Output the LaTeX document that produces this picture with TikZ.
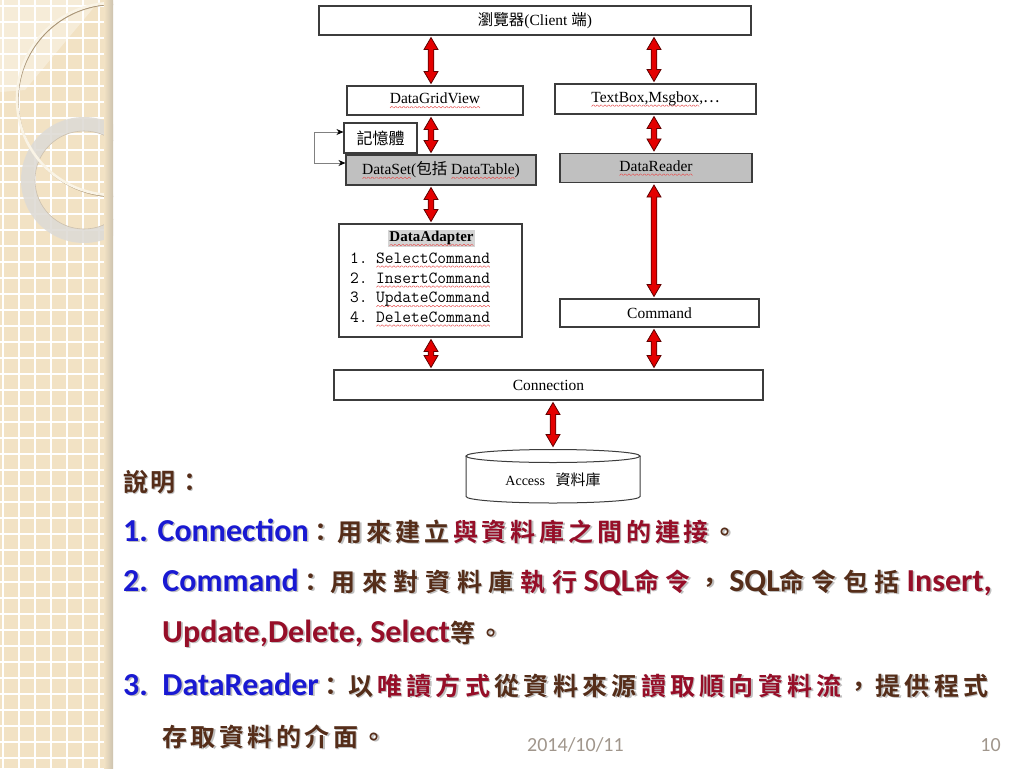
\documentclass[tikz,border=0pt]{standalone}
\usepackage{fontspec}
\usetikzlibrary{arrows.meta,calc}
\newfontfamily\ser{Liberation Serif}
\newfontfamily\cjr{Noto Sans CJK TC}
\newfontfamily\cjb{Noto Sans CJK TC}[UprightFont=* Bold]
\newfontfamily\latb{Carlito}[UprightFont=* Bold]
\newfontfamily\latr{Carlito}
\definecolor{tblue}{RGB}{25,25,210}
\definecolor{tred}{RGB}{150,14,40}
\definecolor{tbrn}{RGB}{85,45,25}
\definecolor{shd}{RGB}{150,150,150}
\definecolor{sqred}{RGB}{230,80,80}
\definecolor{strip}{RGB}{242,226,196}
\definecolor{shadowc}{RGB}{205,195,175}
\definecolor{ringgray}{RGB}{222,219,213}
\definecolor{ringcream}{RGB}{250,244,230}
\definecolor{ringshadow}{RGB}{170,150,120}
\definecolor{boxline}{RGB}{60,60,60}
\definecolor{boxgray}{RGB}{192,192,192}
\definecolor{arrred}{RGB}{228,0,0}
\definecolor{arrdark}{RGB}{95,0,0}
\definecolor{dategray}{RGB}{160,150,140}
\definecolor{titlegray}{RGB}{212,212,212}
% wavy spell-check underline made of small rules
\newcommand\zz{\hbox{\rotatebox{45}{\rule{2.2pt}{0.5pt}}\raisebox{1.55pt}{\rotatebox{-45}{\rule{2.2pt}{0.5pt}}}}}
\newcommand\sq[1]{\setbox0\hbox{#1}\leavevmode\rlap{\raisebox{-4.5pt}{\color{sqred}\hbox to \wd0{\xleaders\zz\hfill}}}\box0}
% CJK text with a fixed extra space after every character
\def\LSk{0pt}
\def\zhloop#1{\ifx\relax#1\else#1\kern\LSk\relax\expandafter\zhloop\fi}
\newcommand\ZH[1]{{\cjb\zhloop#1\relax}}
\newcommand\EN[1]{{\fontsize{32}{36}\selectfont\latb #1}}
\tikzset{
  box/.style={draw=boxline, line width=1.1pt, fill=white, inner sep=0pt,
    font=\fontsize{15.5}{18}\selectfont\ser},
  grayed/.style={fill=boxgray},
  dblarrow/.style={fill=arrred, draw=arrdark, line width=0.8pt, line join=miter},
  memline/.style={draw=gray, line width=0.8pt,
    {Stealth[length=7pt,width=6pt,color=black]}-{Stealth[length=7pt,width=6pt,color=black]}},
  txt/.style={anchor=base west, inner sep=0pt, font=\fontsize{25}{30}\selectfont\cjb},
  lst/.style={anchor=base west, inner sep=0pt, font=\fontsize{17}{19}\selectfont\ttfamily},
}
\newcommand\dbl[2]{%
  \coordinate (aT) at ($(#1)+(0,2)$);
  \coordinate (aB) at ($(#2)+(0,-2)$);
  \filldraw[dblarrow] (aT) -- ($(aT)+(7,12)$) -- ($(aT)+(2.8,12)$) -- ($(aB)+(2.8,-12)$)
    -- ($(aB)+(7,-12)$) -- (aB) -- ($(aB)+(-7,-12)$) -- ($(aB)+(-2.8,-12)$)
    -- ($(aT)+(-2.8,12)$) -- ($(aT)+(-7,12)$) -- cycle;}
\newcommand\tline[4]{%
  \def\LSk{#3pt}%
  \begingroup\colorlet{tblue}{shd}\colorlet{tred}{shd}\colorlet{tbrn}{shd}%
  \node[txt, text=shd, opacity=.6] at ([shift={(1.6,1.6)}]#2) {#4};
  \endgroup
  \node[txt, text=tbrn] (#1) at (#2) {#4};}
\begin{document}
\begin{tikzpicture}[x=1pt,y=-1pt]
\useasboundingbox (0,0) rectangle (1024,768);
\fill[white] (0,0) rectangle (1024,768);
% left decorative strip
\begin{scope}
  \clip (0,0) rectangle (113,768);
  \fill[strip] (0,0) rectangle (113,768);
  \fill[white, opacity=.35] (0,0) -- (100,0) -- (25,90) -- (0,92) -- cycle;
  \foreach \x in {3,19,...,115} \draw[white, line width=1.1pt] (\x,0) -- (\x,768);
  \foreach \y in {6,22,...,768} \draw[white, line width=1.1pt] (0,\y) -- (113,\y);
  \fill[ringgray, opacity=.9, even odd rule] (84,180) circle[radius=63pt] (84,180) circle[radius=49pt];
  \draw[ringshadow!60, line width=.6pt] (84,180) circle[radius=49pt];
  \draw[ringshadow, line width=1.3pt] (114,100.5) circle[radius=96pt];
  \draw[ringcream, line width=2.6pt] (113,99) circle[radius=96pt];
  \shade[left color=strip, right color=shadowc] (104,0) rectangle (113,768);
\end{scope}
% column guides
\coordinate (colL) at (431,0);
\coordinate (colR) at (654,0);
% boxes
\node[box, minimum width=432pt, minimum height=29pt] (client) at (535,20.5) {{\cjr 瀏覽器}(Client {\cjr 端})};
\node[box, minimum width=176pt, minimum height=29pt] (dgv) at (435,100.5) {\sq{DataGridView}};
\node[box, minimum width=201pt, minimum height=30pt] (tb) at (655.5,99) {\sq{TextBox,Msgbox},{\cjr …}};
\node[box, minimum width=73pt, minimum height=30pt, font=\fontsize{16}{18}\selectfont\cjr] (mem) at (380.5,138) {記憶體};
\node[box, grayed, minimum width=190pt, minimum height=30pt] (ds) at (441,170) {\sq{DataSet}({\cjr 包括} \sq{DataTable})};
\node[box, grayed, minimum width=192pt, minimum height=29pt] (dr) at (656,168) {\sq{DataReader}};
\node[box, minimum width=183pt, minimum height=113pt] (da) at (430.5,280.5) {};
\node[fill=titlegray, inner sep=1.5pt, font=\fontsize{15}{17}\selectfont\ser\bfseries] (dat) at (431.5,238.5) {\sq{DataAdapter}};
\node[lst] (n1) at (350,263) {1.};
\node[lst] (w1) at (376,263) {\sq{SelectCommand}};
\node[lst] (n2) at (350,283) {2.};
\node[lst] (w2) at (376,283) {\sq{InsertCommand}};
\node[lst] (n3) at (350,302.5) {3.};
\node[lst] (w3) at (376,302.5) {\sq{UpdateCommand}};
\node[lst] (n4) at (350,322) {4.};
\node[lst] (w4) at (376,322) {\sq{DeleteCommand}};
\node[box, minimum width=199pt, minimum height=28pt] (cmd) at (659.5,313) {Command};
\node[box, minimum width=429pt, minimum height=30pt] (conn) at (548.5,385) {Connection};
% database cylinder
\draw[boxline, line width=1pt, fill=white] (466,456) -- (466,496.5) arc[start angle=180, end angle=360, x radius=87pt, y radius=6.5pt] -- (640,456);
\draw[boxline, line width=1pt, fill=white] (553,456) ellipse[x radius=87pt, y radius=6.5pt];
\node[inner sep=0pt, font=\fontsize{14}{16}\selectfont\ser] (db) at (553,479.5) {Access\ \ \ {\cjr\fontsize{15}{17}\selectfont 資料庫}};
\coordinate (dbtop) at (553,448.5);
% memory connector
\draw[memline] ([yshift=6pt]mem.west) -- ++(-29,0) |- ([yshift=7pt]ds.west);
% red double arrows
\dbl{client.south -| colL}{dgv.north -| colL}
\dbl{client.south -| colR}{tb.north -| colR}
\dbl{dgv.south -| colL}{ds.north -| colL}
\dbl{tb.south -| colR}{dr.north -| colR}
\dbl{ds.south -| colL}{da.north -| colL}
\dbl{dr.south -| colR}{cmd.north -| colR}
\dbl{da.south -| colL}{conn.north -| colL}
\dbl{cmd.south -| colR}{conn.north -| colR}
\dbl{conn.south -| dbtop}{dbtop}
% explanation text
\tline{t0}{123,491}{2}{\ZH{說明：}}
\tline{t1}{123,541}{3.86}{{\color{tblue}\EN{1. Connection}}\ZH{：用來建立}{\color{tred}\ZH{與資料庫之間的連接}}\ZH{。}}
\tline{t2}{123,591}{6.66}{{\color{tblue}\EN{2.\ \ Command}}\ZH{：用來對資料庫}{\color{tred}\ZH{執行}\EN{SQL}\ZH{命令}}\ZH{，}\EN{SQL}\ZH{命令包括}{\color{tred}\EN{Insert,}}}
\tline{t3}{162,642}{3.5}{{\color{tred}\EN{Update,Delete, Select}}\ZH{等。}}
\tline{t4}{123,695}{4.3}{{\color{tblue}\EN{3.\ \ DataReader}}\ZH{：以}{\color{tred}\ZH{唯讀方式}}\ZH{從資料來源}{\color{tred}\ZH{讀取順向資料流}}\ZH{，提供程式}}
\tline{t5}{162,746}{3.5}{\ZH{存取資料的介面。}}
% footer
\node[anchor=west, inner sep=0pt, text=dategray, font=\fontsize{20}{24}\selectfont\latr] (date) at (527,745) {2014/10/11};
\node[inner sep=0pt, text=dategray, font=\fontsize{20}{24}\selectfont\latr] (pg) at (990.5,745) {10};
\end{tikzpicture}
\end{document}
